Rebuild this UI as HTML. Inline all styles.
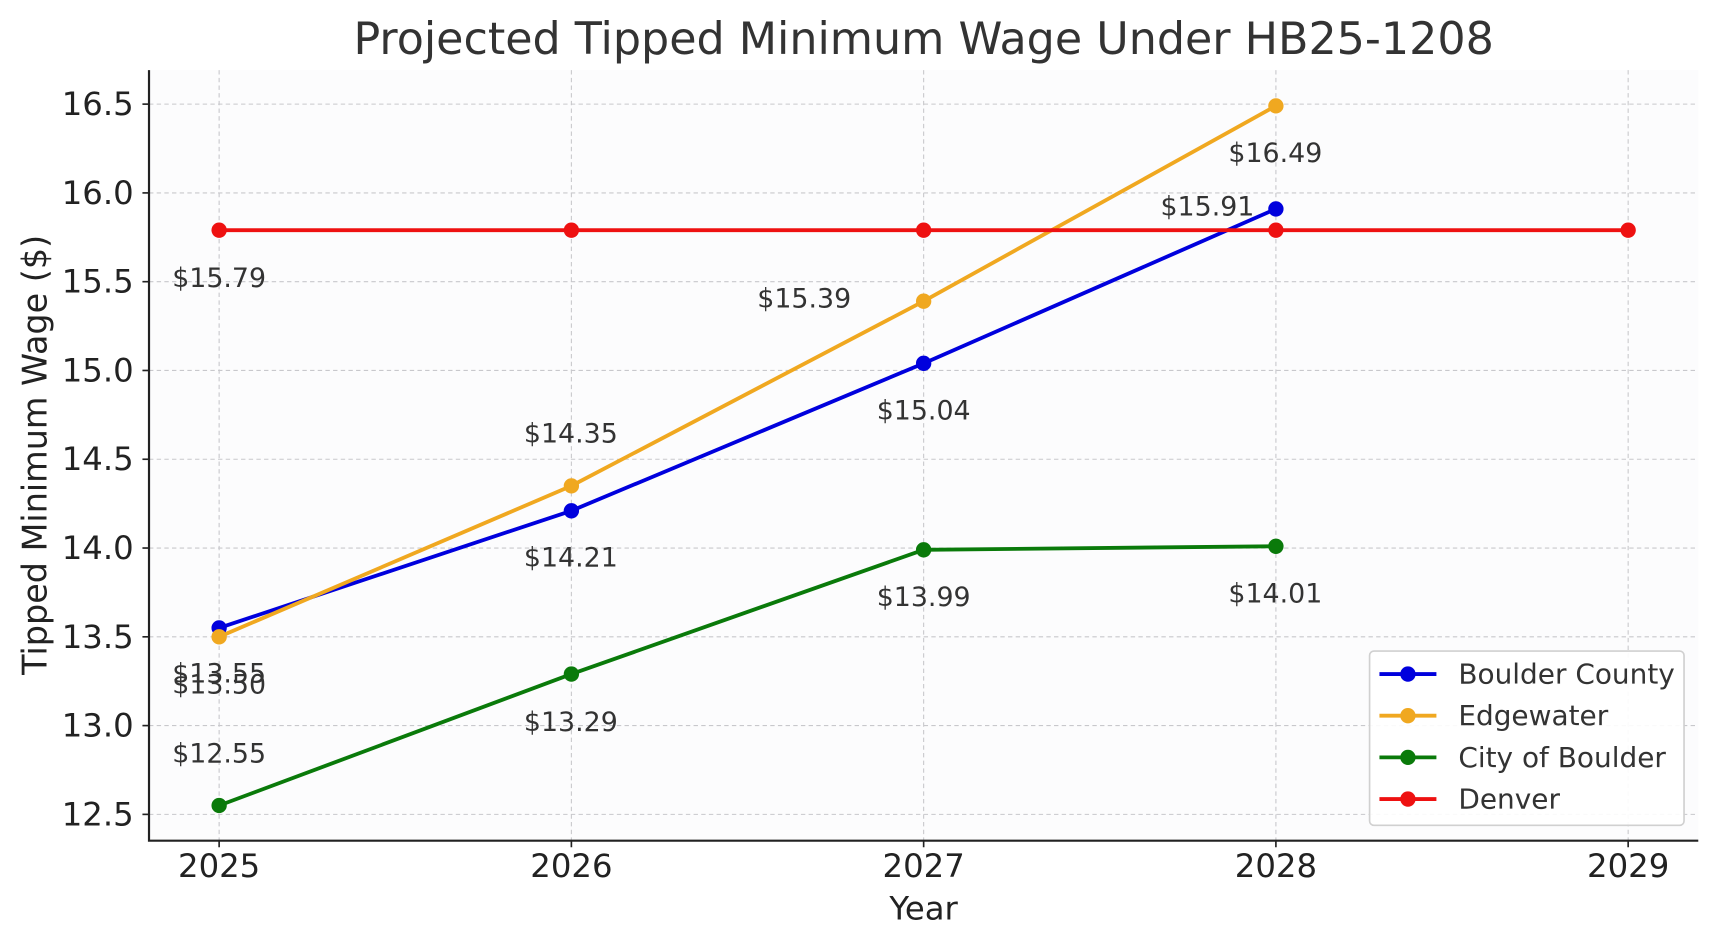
<!DOCTYPE html>
<html><head><meta charset="utf-8"><style>html,body{margin:0;padding:0;background:#fff}svg{display:block}</style></head>
<body>
<svg width="1718" height="947" viewBox="0 0 1568 864" preserveAspectRatio="none" xmlns="http://www.w3.org/2000/svg" font-family="'DejaVu Sans','Liberation Sans',sans-serif">
<rect width="1568" height="864" fill="#fff"/>
<rect x="136" y="64" width="1414" height="703" fill="#fcfcfd"/>
<g stroke="#c8c8cc" stroke-width="1" stroke-dasharray="4,3">
<line x1="200" y1="64" x2="200" y2="767"/><line x1="521.5" y1="64" x2="521.5" y2="767"/><line x1="843" y1="64" x2="843" y2="767"/><line x1="1164.5" y1="64" x2="1164.5" y2="767"/><line x1="1486" y1="64" x2="1486" y2="767"/>
<line x1="136" y1="95" x2="1550" y2="95"/><line x1="136" y1="176" x2="1550" y2="176"/><line x1="136" y1="257" x2="1550" y2="257"/><line x1="136" y1="338" x2="1550" y2="338"/><line x1="136" y1="419" x2="1550" y2="419"/><line x1="136" y1="500" x2="1550" y2="500"/><line x1="136" y1="581" x2="1550" y2="581"/><line x1="136" y1="662" x2="1550" y2="662"/><line x1="136" y1="743" x2="1550" y2="743"/>
</g>
<g stroke="#222" stroke-width="2" fill="none"><polyline points="136,64 136,767 1550,767"/></g>
<g stroke="#222" stroke-width="1.5">
<line x1="130" y1="95" x2="136" y2="95"/><line x1="130" y1="176" x2="136" y2="176"/><line x1="130" y1="257" x2="136" y2="257"/><line x1="130" y1="338" x2="136" y2="338"/><line x1="130" y1="419" x2="136" y2="419"/><line x1="130" y1="500" x2="136" y2="500"/><line x1="130" y1="581" x2="136" y2="581"/><line x1="130" y1="662" x2="136" y2="662"/><line x1="130" y1="743" x2="136" y2="743"/>
<line x1="200" y1="767" x2="200" y2="773"/><line x1="521.5" y1="767" x2="521.5" y2="773"/><line x1="843" y1="767" x2="843" y2="773"/><line x1="1164.5" y1="767" x2="1164.5" y2="773"/><line x1="1486" y1="767" x2="1486" y2="773"/>
</g>
<g font-size="29.5" fill="#222" text-anchor="end" dominant-baseline="central">
<text x="122" y="95">16.5</text><text x="122" y="176">16.0</text><text x="122" y="257">15.5</text><text x="122" y="338">15.0</text><text x="122" y="419">14.5</text><text x="122" y="500">14.0</text><text x="122" y="581">13.5</text><text x="122" y="662">13.0</text><text x="122" y="743">12.5</text>
</g>
<g font-size="29.5" fill="#222" text-anchor="middle" dominant-baseline="central">
<text x="200" y="790">2025</text><text x="521.5" y="790">2026</text><text x="843" y="790">2027</text><text x="1164.5" y="790">2028</text><text x="1486" y="790">2029</text>
<text x="843" y="829">Year</text>
<text x="843" y="36" font-size="40.5" fill="#333">Projected Tipped Minimum Wage Under HB25-1208</text>
<text x="32" y="415" font-size="30.5" transform="rotate(-90 32 415)">Tipped Minimum Wage ($)</text>
</g>
<g fill="none" stroke-width="3.5">
<polyline stroke="#0000dd" points="200,572.9 521.5,466 843,331.5 1164.5,190.6"/>
<polyline stroke="#f0a820" points="200,581 521.5,443.3 843,274.8 1164.5,96.6"/>
<polyline stroke="#0a7a0a" points="200,734.9 521.5,615 843,501.6 1164.5,498.4"/>
<polyline stroke="#ee1111" points="200,210 1486,210"/>
</g>
<g fill="#0000dd"><circle cx="200" cy="572.9" r="7"/><circle cx="521.5" cy="466" r="7"/><circle cx="843" cy="331.5" r="7"/><circle cx="1164.5" cy="190.6" r="7"/></g>
<g fill="#f0a820"><circle cx="200" cy="581" r="7"/><circle cx="521.5" cy="443.3" r="7"/><circle cx="843" cy="274.8" r="7"/><circle cx="1164.5" cy="96.6" r="7"/></g>
<g fill="#0a7a0a"><circle cx="200" cy="734.9" r="7"/><circle cx="521.5" cy="615" r="7"/><circle cx="843" cy="501.6" r="7"/><circle cx="1164.5" cy="498.4" r="7"/></g>
<g fill="#ee1111"><circle cx="200" cy="210" r="7"/><circle cx="521.5" cy="210" r="7"/><circle cx="843" cy="210" r="7"/><circle cx="1164.5" cy="210" r="7"/><circle cx="1486" cy="210" r="7"/></g>
<g font-size="24.5" fill="#333" text-anchor="middle" dominant-baseline="central">
<text x="200" y="254">$15.79</text><text x="200" y="615">$13.55</text><text x="200" y="625">$13.50</text><text x="200" y="688">$12.55</text>
<text x="521" y="396">$14.35</text><text x="521" y="509">$14.21</text><text x="521" y="659">$13.29</text>
<text x="734" y="273">$15.39</text><text x="843" y="375">$15.04</text><text x="843" y="545">$13.99</text>
<text x="1164" y="140">$16.49</text><text x="1102" y="189">$15.91</text><text x="1164" y="542">$14.01</text>
</g>
<rect x="1250" y="594" width="287" height="159" rx="4" fill="#fff" fill-opacity="0.9" stroke="#d0d0d0" stroke-width="1.5"/>
<g stroke-width="3.5"><line x1="1259" y1="615" x2="1311" y2="615" stroke="#0000dd"/><line x1="1259" y1="653" x2="1311" y2="653" stroke="#f0a820"/><line x1="1259" y1="691" x2="1311" y2="691" stroke="#0a7a0a"/><line x1="1259" y1="729" x2="1311" y2="729" stroke="#ee1111"/></g>
<circle cx="1285" cy="615" r="7" fill="#0000dd"/><circle cx="1285" cy="653" r="7" fill="#f0a820"/><circle cx="1285" cy="691" r="7" fill="#0a7a0a"/><circle cx="1285" cy="729" r="7" fill="#ee1111"/>
<g font-size="25.5" fill="#333" dominant-baseline="central">
<text x="1331" y="615">Boulder County</text><text x="1331" y="653">Edgewater</text><text x="1331" y="691">City of Boulder</text><text x="1331" y="729">Denver</text>
</g>
</svg>
</body></html>
